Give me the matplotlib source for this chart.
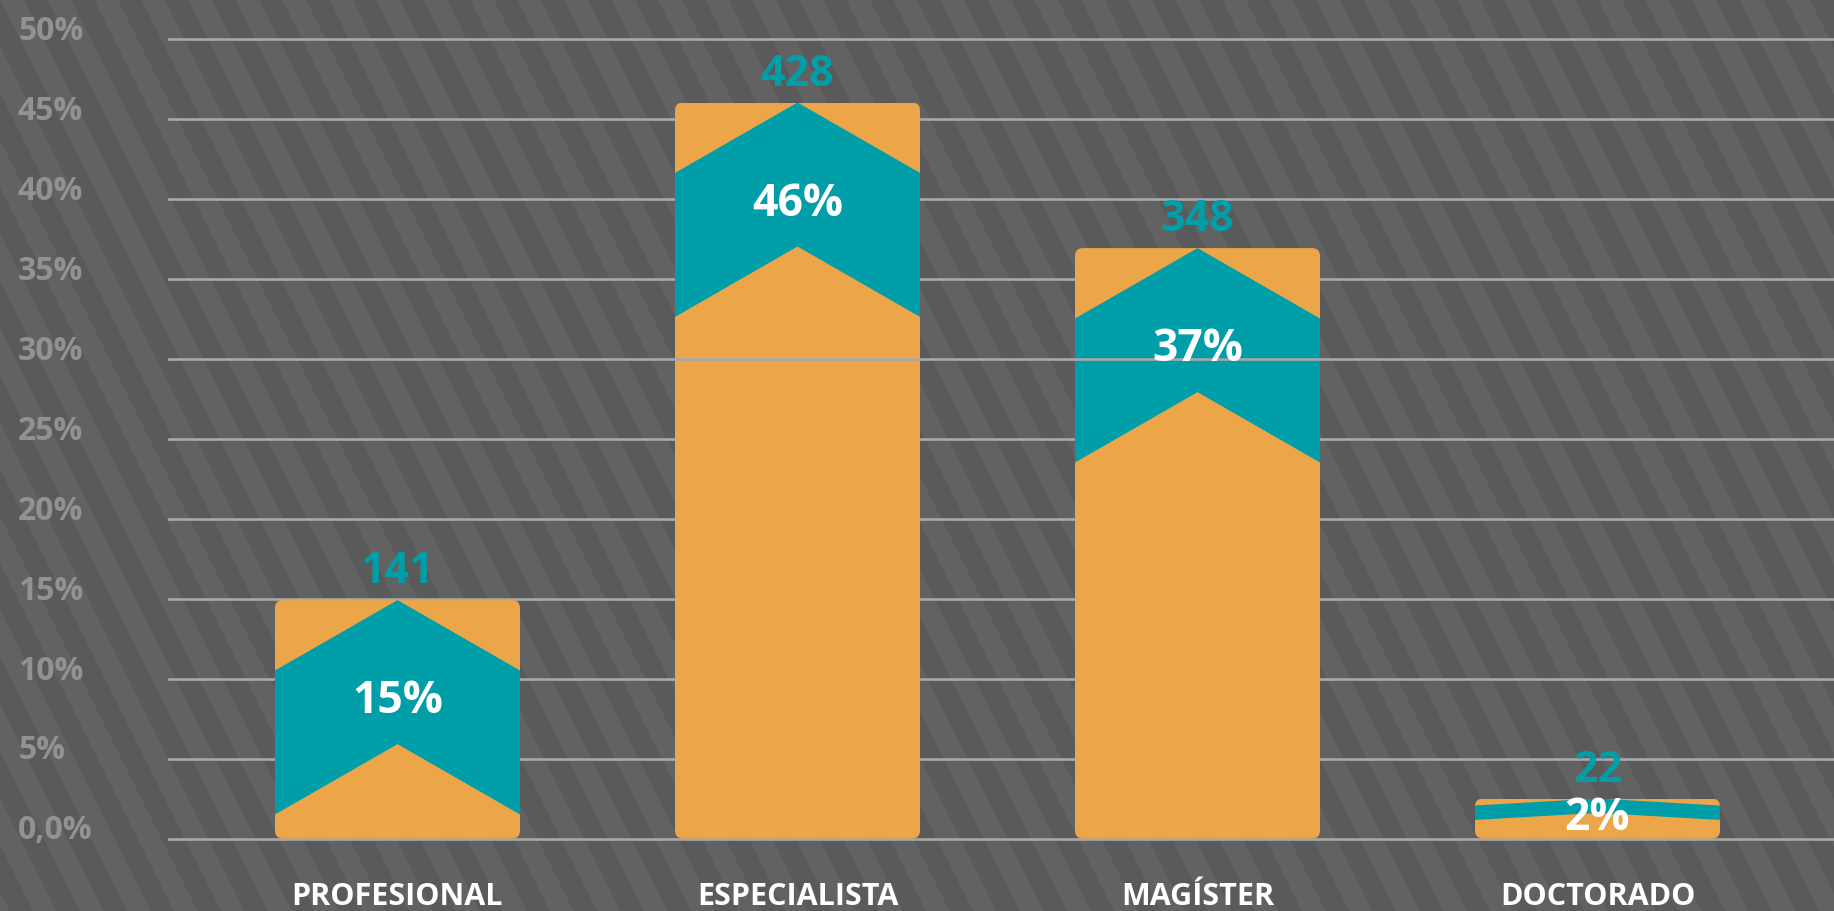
import numpy as np
import matplotlib
matplotlib.use("Agg")
import matplotlib.pyplot as plt
from matplotlib.patches import FancyBboxPatch, Polygon

# data
categories = ["PROFESIONAL", "ESPECIALISTA", "MAGÍSTER", "DOCTORADO"]
counts = [141, 428, 348, 22]
pct_labels = ["15%", "46%", "37%", "2%"]
heights = [14.9, 46.0, 36.9, 2.5]
yticks = [0, 5, 10, 15, 20, 25, 30, 35, 40, 45, 50]
ytick_labels = ["0,0%", "5%", "10%", "15%", "20%", "25%", "30%", "35%", "40%", "45%", "50%"]

ORANGE = "#EDA54A"
TEAL = "#009EA8"
DARK = "#5a5a5a"
LIGHT = "#626262"
GRID = "#a8a8a8"
TICK = "#929292"

plt.rcParams['font.family'] = ['Open Sans', 'DejaVu Sans']

W, H = 1834, 912
fig = plt.figure(figsize=(W / 100, H / 100), dpi=100)

# striped background
bg = fig.add_axes([0, 0, 1, 1], zorder=0)
bg.set_xlim(0, W)
bg.set_ylim(H, 0)
bg.axis('off')
bg.add_patch(plt.Rectangle((0, 0), W, H, color=DARK))
P, slope = 47, 0.5
for k in range(-int(H * slope / P) - 2, int(W / P) + 2):
    x0 = k * P
    bg.add_patch(Polygon([(x0, 0), (x0 + P / 2, 0), (x0 + P / 2 + slope * H, H), (x0 + slope * H, H)],
                         closed=True, color=LIGHT, lw=0))

ax = fig.add_axes([168 / W, (H - 855.5) / H, 1 - 168 / W, 832 / H], zorder=1)
ax.patch.set_alpha(0)
x = np.arange(len(categories))
ax.set_xlim(-0.57375, 3.59125)
ax.set_ylim(-1, 51)
for s in ax.spines.values():
    s.set_visible(False)

for yv in yticks:
    ax.axhline(yv, color=GRID, lw=1.9, zorder=1 if yv != 30 else 6)

bw = 0.6125
bars = ax.bar(x, heights, width=bw, color=ORANGE, zorder=2)
for rect, h, c, p in zip(bars, heights, counts, pct_labels):
    x0 = rect.get_x()
    xc = x0 + bw / 2
    x1 = x0 + bw
    clip = FancyBboxPatch((x0, 0), bw, h, boxstyle='round,pad=0,rounding_size=0.02',
                          mutation_aspect=25, transform=ax.transData,
                          facecolor='none', edgecolor='none')
    ax.add_patch(clip)
    rect.set_clip_path(clip)
    # full-size chevron on normal bars, shrunk one on the tiny bar
    s = 1.0 if h > 10 else h / 25
    drop, thick = 4.4 * s, 9.0 * s
    chev = Polygon([(x0, h - drop), (xc, h), (x1, h - drop),
                    (x1, h - drop - thick), (xc, h - thick), (x0, h - drop - thick)],
                   closed=True, facecolor=TEAL, lw=0, zorder=3)
    ax.add_patch(chev)
    chev.set_clip_path(clip)
    off = 6.3 if h > 10 else 0.48 * h
    ax.text(xc, h - off, p, ha='center', va='center', color='white',
            fontsize=32, fontweight='bold', zorder=7)
    ax.annotate(str(c), (xc, h), xytext=(0, 21), textcoords='offset points',
                ha='center', va='center', color=TEAL, fontsize=31, fontweight='bold', zorder=7)

ax.set_xticks(x, categories)
ax.tick_params(axis='x', length=0, pad=19, labelsize=22, labelcolor='white')
for lbl in ax.get_xticklabels():
    lbl.set_fontweight('bold')

ax.set_yticks(yticks, ytick_labels)
ax.tick_params(axis='y', length=0, pad=108, labelsize=23, labelcolor=TICK)
for lbl in ax.get_yticklabels():
    lbl.set_ha('left')
    lbl.set_va('baseline')
    lbl.set_fontweight('bold')

fig.savefig('out.png', dpi=100)
